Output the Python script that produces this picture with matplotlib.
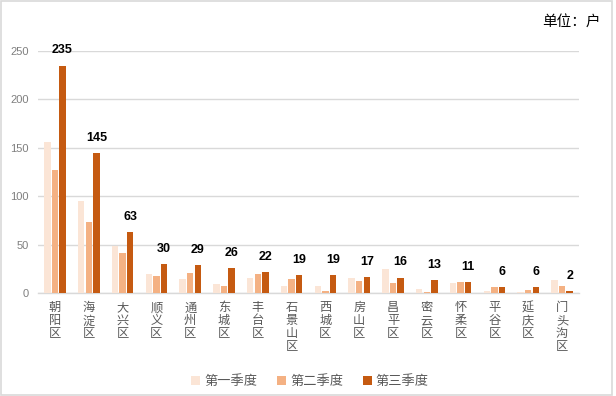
import matplotlib
matplotlib.use("Agg")
import matplotlib.pyplot as plt
import numpy as np
from matplotlib.patches import Rectangle

plt.rcParams['font.family'] = ['Noto Sans CJK SC', 'DejaVu Sans']

districts = ["朝阳区", "海淀区", "大兴区", "顺义区", "通州区", "东城区", "丰台区", "石景山区",
             "西城区", "房山区", "昌平区", "密云区", "怀柔区", "平谷区", "延庆区", "门头沟区"]
q1 = [156, 95, 49, 20, 14, 9, 15, 7, 7, 15, 25, 4, 10, 2, 1, 13]
q2 = [127, 73, 41, 18, 21, 7, 20, 14, 2, 12, 10, 1, 11, 6, 3, 7]
q3 = [235, 145, 63, 30, 29, 26, 22, 19, 19, 17, 16, 13, 11, 6, 6, 2]
series_names = ["第一季度", "第二季度", "第三季度"]
yticks = [0, 50, 100, 150, 200, 250]

colors = ["#FBE5D6", "#F4B183", "#C55A11"]

fig = plt.figure(figsize=(6.16, 3.96), dpi=100)
fig.patch.set_facecolor("white")
fig.add_artist(Rectangle((0.001, 0.002), 0.992, 0.995, transform=fig.transFigure,
                         fill=False, edgecolor="#D9D9D9", linewidth=1.2))

W, H = 616, 396
ax = fig.add_axes([38 / W, 1 - 293 / H, (579 - 38) / W, (293 - 51) / H])

x = np.arange(len(districts))
bw = 0.19
off = 0.225
for i, (vals, c) in enumerate(zip([q1, q2, q3], colors)):
    ax.bar(x + (i - 1) * off, vals, width=bw, color=c, label=series_names[i], zorder=3)

for xi, v in zip(x, q3):
    ax.annotate(str(v), (xi + off, v), xytext=(0, 6.5), textcoords="offset points",
                ha="center", va="bottom", fontsize=9, fontweight="bold",
                family=["Liberation Sans", "DejaVu Sans"], color="#000000", zorder=4)

ax.set_xlim(-0.5, len(districts) - 0.5)
ax.set_ylim(0, 250)
ax.set_yticks(yticks)
ax.set_yticklabels([str(t) for t in yticks], family=["Liberation Sans", "DejaVu Sans"],
                   fontsize=8, color="#7F7F7F")
ax.yaxis.grid(True, color="#D9D9D9", linewidth=1, zorder=0)
ax.set_axisbelow(True)
ax.tick_params(axis="y", length=0, pad=6.5)
ax.tick_params(axis="x", length=0, pad=6)
ax.set_xticks(x)
ax.set_xticklabels(["\n".join(d) for d in districts], fontsize=8.8, color="#595959",
                   linespacing=1.0, va="top")
for s in ["top", "right", "left"]:
    ax.spines[s].set_visible(False)
ax.spines["bottom"].set_color("#D9D9D9")
ax.spines["bottom"].set_linewidth(1)

fig.text(601 / W, 1 - 21.5 / H, "单位：户", ha="right", va="center", fontsize=10.5, color="#000000")

leg = fig.legend(loc="center", bbox_to_anchor=(310 / W, 1 - 382 / H), ncol=3, frameon=False,
                 fontsize=9.5, handlelength=0.68, handleheight=0.68, handletextpad=0.3,
                 columnspacing=1.5, labelcolor="#595959")

fig.savefig("out.png", dpi=100, facecolor="white")
